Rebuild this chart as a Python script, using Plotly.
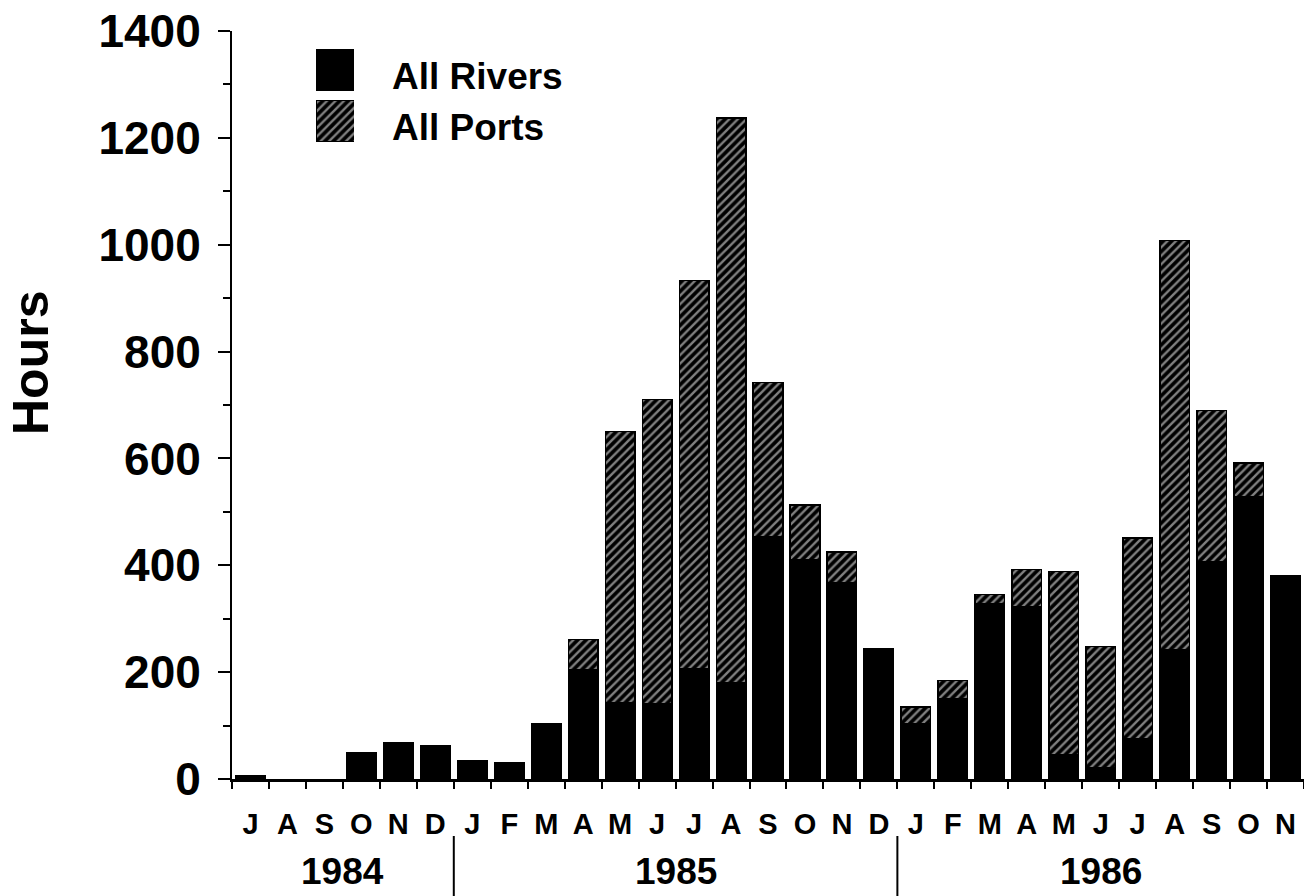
import plotly.graph_objects as go

# ---- data ----
months = ["J", "A", "S", "O", "N", "D",
          "J", "F", "M", "A", "M", "J", "J", "A", "S", "O", "N", "D",
          "J", "F", "M", "A", "M", "J", "J", "A", "S", "O", "N"]
years = ["1984", "1985", "1986"]
months_per_year = [6, 12, 11]
rivers = [7, 0, 0, 50, 67, 62,
          35, 30, 104, 205, 143, 140, 207, 180, 453, 410, 367, 243,
          104, 150, 328, 322, 46, 21, 75, 242, 407, 529, 380]
ports = [0, 0, 0, 0, 0, 0,
         0, 0, 0, 56, 507, 570, 726, 1057, 289, 103, 58, 0,
         31, 34, 17, 70, 342, 227, 376, 766, 283, 62, 0]
series_names = ["All Rivers", "All Ports"]
y_ticks = [0, 200, 400, 600, 800, 1000, 1200, 1400]

FONT = "Liberation Sans"
x = list(range(len(months)))

# zero-height segments are left out so their outlines do not show
rivers_plot = [v if v else None for v in rivers]
ports_plot = [v if v else None for v in ports]

hatch = dict(shape="/", fgcolor="white", bgcolor="black", size=6, solidity=0.4)

fig = go.Figure()
fig.add_trace(go.Bar(x=x, y=rivers_plot, name=series_names[0], width=0.8,
                     marker=dict(color="black", line=dict(color="black", width=1.5)),
                     showlegend=False))
fig.add_trace(go.Bar(x=x, y=ports_plot, name=series_names[1], width=0.8,
                     marker=dict(color="black", pattern=hatch,
                                 line=dict(color="black", width=1.5)),
                     showlegend=False))

# legend swatches drawn as small bars on an inset axis
fig.add_trace(go.Bar(x=[1], y=[1], orientation="h", width=0.8, xaxis="x2", yaxis="y2",
                     marker=dict(color="black", line=dict(color="black", width=1)),
                     showlegend=False, hoverinfo="skip"))
fig.add_trace(go.Bar(x=[1], y=[0], orientation="h", width=0.8, xaxis="x2", yaxis="y2",
                     marker=dict(color="black", pattern=hatch, line=dict(color="black", width=1)),
                     showlegend=False, hoverinfo="skip"))

W, H = 1304, 896
L, R, T, B = 232, 0, 31, 117
pw, ph = W - L - R, H - T - B


def px_x(p):
    return (p - L) / pw


def px_y(p):
    return (H - B - p) / ph


annotations = []
# y title
annotations.append(dict(text="Hours", textangle=-90, x=px_x(31), y=px_y(363),
                        xref="paper", yref="paper", showarrow=False,
                        xanchor="center", yanchor="middle",
                        font=dict(family=FONT, size=50, color="black", weight="bold")))
# legend labels
annotations.append(dict(text=series_names[0], x=px_x(390), y=px_y(76), xref="paper", yref="paper",
                        xanchor="left", yanchor="middle", showarrow=False,
                        font=dict(family=FONT, size=37, color="black", weight="bold")))
annotations.append(dict(text=series_names[1], x=px_x(390), y=px_y(128), xref="paper", yref="paper",
                        xanchor="left", yanchor="middle", showarrow=False,
                        font=dict(family=FONT, size=37, color="black", weight="bold")))

# year labels and dividers
shapes = []
start = 0
for i, (yr, n) in enumerate(zip(years, months_per_year)):
    center = start + (n - 1) / 2
    annotations.append(dict(text=yr, x=center, y=px_y(871), xref="x", yref="paper",
                            showarrow=False, xanchor="center", yanchor="middle",
                            font=dict(family=FONT, size=37, color="black", weight="bold")))
    if i < len(years) - 1:
        b = start + n - 0.5
        shapes.append(dict(type="line", x0=b, x1=b, xref="x", yref="paper",
                           y0=px_y(836), y1=px_y(900),
                           line=dict(color="black", width=2)))
    start += n

fig.update_layout(
    width=W, height=H,
    margin=dict(l=L, r=R, t=T, b=B, pad=0),
    paper_bgcolor="white", plot_bgcolor="white",
    barmode="stack",
    showlegend=False,
    font=dict(family=FONT, color="black"),
    xaxis=dict(range=[-0.5, 28.5], tickmode="array", tickvals=x, ticktext=months,
               ticks="", showgrid=False, zeroline=False,
               showline=True, linecolor="black", linewidth=3,
               tickfont=dict(family=FONT, size=29, color="black", weight="bold"),
               ticklabelstandoff=17,
               minor=dict(tick0=-0.5, dtick=1, ticks="outside", ticklen=7,
                          tickwidth=2, tickcolor="black", showgrid=False)),
    yaxis=dict(range=[0, 1400], tickmode="array", tickvals=y_ticks,
               ticks="outside", ticklen=12, tickwidth=2, tickcolor="black",
               showgrid=False, zeroline=False,
               showline=True, linecolor="black", linewidth=2,
               tickfont=dict(family=FONT, size=46, color="black", weight="bold"),
               ticklabelstandoff=8,
               minor=dict(dtick=100, tick0=0, ticks="outside", ticklen=7,
                          tickwidth=2, tickcolor="black", showgrid=False)),
    xaxis2=dict(domain=[px_x(316), px_x(354)], range=[0, 1], anchor="y2",
                visible=False, fixedrange=True),
    yaxis2=dict(domain=[px_y(147), px_y(44)], range=[-0.5, 1.5], anchor="x2",
                visible=False, fixedrange=True),
    annotations=annotations,
    shapes=shapes,
)

fig.write_html("out.html", config={"displayModeBar": False},
               post_script="document.body.style.margin='0';")
